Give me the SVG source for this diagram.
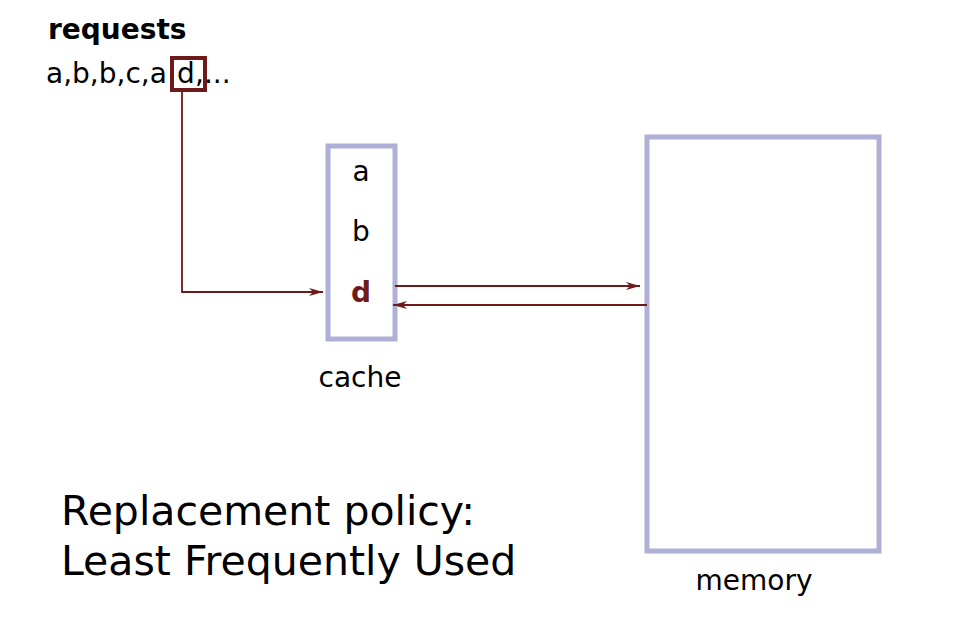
<svg xmlns="http://www.w3.org/2000/svg" width="960" height="632" viewBox="0 0 960 632">
<style>
text{font-family:"DejaVu Sans",sans-serif;fill:#000}
.box{fill:#fff;stroke:#aeb0d6;stroke-width:5}
.con{fill:none;stroke:#6f1a1a;stroke-width:1.8}
</style>
<defs>
<marker id="ah" viewBox="0 0 14 8" refX="14" refY="4" markerWidth="14" markerHeight="8" markerUnits="userSpaceOnUse" orient="auto">
<path d="M0,0 L14,4 L0,8 L4,4 Z" fill="#6f1a1a"/>
</marker>
</defs>
<rect width="960" height="632" fill="#fff"/>
<g id="requests">
<text x="48" y="39" font-size="28" font-weight="bold">requests</text>
<text y="83" font-size="28"><tspan x="46">a,b,b,c,a</tspan><tspan x="177">d</tspan><tspan x="195">,...</tspan></text>
<rect x="172" y="58" width="33" height="32" fill="none" stroke="#6f1a1a" stroke-width="4"/>
</g>
<g id="cache">
<rect class="box" x="328" y="146" width="67" height="193"/>
<text x="361" y="181" font-size="28" text-anchor="middle">a</text>
<text x="361" y="241" font-size="28" text-anchor="middle">b</text>
<text x="361" y="302" font-size="28" font-weight="bold" text-anchor="middle" style="fill:#6f1a1a">d</text>
<text x="360" y="387" font-size="28" text-anchor="middle">cache</text>
</g>
<g id="memory">
<rect class="box" x="647" y="137" width="232" height="414"/>
<text x="754" y="590" font-size="28" text-anchor="middle">memory</text>
</g>
<g id="caption">
<text x="61" y="525" font-size="41">Replacement policy:</text>
<text x="61" y="575" font-size="41">Least Frequently Used</text>
</g>
<g id="connectors">
<path class="con" d="M182,92 V292 H323" marker-end="url(#ah)"/>
<path class="con" d="M395,286 H640" marker-end="url(#ah)"/>
<path class="con" d="M647,305 H393" marker-end="url(#ah)"/>
</g>
</svg>
